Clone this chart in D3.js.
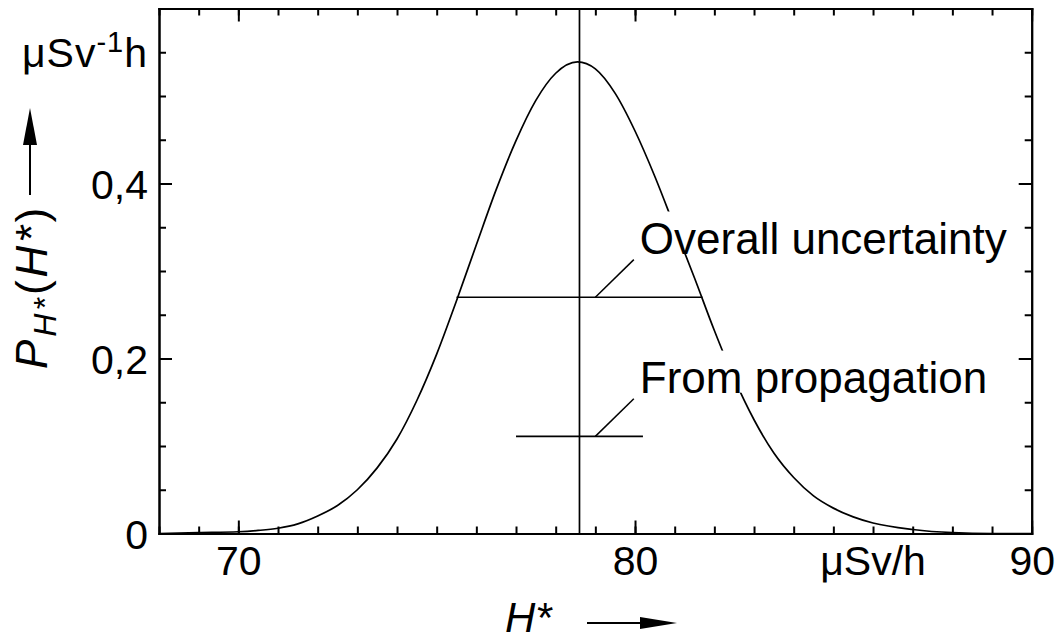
<!DOCTYPE html>
<html>
<head>
<meta charset="utf-8">
<script src="https://cdn.jsdelivr.net/npm/d3@7"></script>
<style>
body { margin: 0; background: #fff; }
svg { display: block; }
text { font-family: "Liberation Sans", Arial, sans-serif; fill: #000; }
</style>
</head>
<body>
<svg id="chart" width="1061" height="642"></svg>
<script>
// curve: H* in uSv/h, density in (uSv/h)^-1
var curveX = [68, 69, 70, 70.5, 71, 71.5, 72, 72.5, 73, 73.5, 74, 74.5, 75, 75.5, 76, 76.5, 77, 77.5, 78, 78.55,
	79, 79.5, 80, 80.5, 81, 81.5, 82, 82.5, 83, 83.5, 84, 84.5, 85, 85.5, 86, 87, 88, 89, 90];
var curveY = [0, 0.001, 0.002, 0.0035, 0.006, 0.011, 0.02, 0.032, 0.05, 0.075, 0.108, 0.152, 0.205, 0.266, 0.33, 0.393, 0.449, 0.495, 0.526, 0.539,
	0.531, 0.503, 0.46, 0.408, 0.35, 0.292, 0.232, 0.177, 0.13, 0.092, 0.064, 0.043, 0.029, 0.019, 0.012, 0.0046, 0.001, 0, 0];

var meanValue = 78.6;
var barNames = ["Overall uncertainty", "From propagation"];
var barFrom = [75.5, 77.0];
var barTo = [81.7, 80.2];
var barLevel = [0.27, 0.111];

var xMajorTicks = [70, 80, 90];
var xTickLabels = ["70", "80", "90"];
var yMajorTicks = [0, 0.2, 0.4];
var yTickLabels = ["0", "0,2", "0,4"];

var svg = d3.select('#chart');

var x = d3.scaleLinear().domain([68, 90]).range([159, 1031.7]);
var y = d3.scaleLinear().domain([0, 0.6]).range([533.5, 8.5]);

function styleAxis(g) {
	g.select('.domain').attr('stroke', '#000').attr('stroke-width', 2).attr('stroke-linecap', 'square');
	g.selectAll('.tick line').attr('stroke', '#000').attr('stroke-width', 2);
	g.selectAll('text').attr('font-size', 41).attr('fill', '#000')
		.attr('font-family', '"Liberation Sans", Arial, sans-serif');
}

// minor ticks, all four sides, pointing inward
svg.append('g').attr('transform', 'translate(0,' + y(0) + ')')
	.call(d3.axisBottom(x).tickValues(x.ticks(22)).tickSize(-7).tickSizeOuter(0).tickFormat(''))
	.call(styleAxis);
svg.append('g').attr('transform', 'translate(0,' + y(0.6) + ')')
	.call(d3.axisTop(x).tickValues(x.ticks(22)).tickSize(-7).tickSizeOuter(0).tickFormat(''))
	.call(styleAxis);
svg.append('g').attr('transform', 'translate(' + x(68) + ',0)')
	.call(d3.axisLeft(y).tickValues(y.ticks(12)).tickSize(-7).tickSizeOuter(0).tickFormat(''))
	.call(styleAxis);
svg.append('g').attr('transform', 'translate(' + x(90) + ',0)')
	.call(d3.axisRight(y).tickValues(y.ticks(12)).tickSize(-7).tickSizeOuter(0).tickFormat(''))
	.call(styleAxis);

// major ticks + labels
svg.append('g').attr('transform', 'translate(0,' + y(0) + ')')
	.call(d3.axisBottom(x).tickValues(xMajorTicks).tickSize(-13).tickSizeOuter(0).tickPadding(12.4)
		.tickFormat(function(d, i) { return xTickLabels[i]; }))
	.call(styleAxis);
svg.append('g').attr('transform', 'translate(0,' + y(0.6) + ')')
	.call(d3.axisTop(x).tickValues(xMajorTicks).tickSize(-13).tickSizeOuter(0).tickFormat(''))
	.call(styleAxis);
var yAx = svg.append('g').attr('transform', 'translate(' + x(68) + ',0)')
	.call(d3.axisLeft(y).tickValues(yMajorTicks).tickSize(-13).tickSizeOuter(0).tickPadding(11)
		.tickFormat(function(d, i) { return yTickLabels[i]; }))
	.call(styleAxis);
yAx.selectAll('text').attr('dy', '0.37em');
svg.append('g').attr('transform', 'translate(' + x(90) + ',0)')
	.call(d3.axisRight(y).tickValues(yMajorTicks).tickSize(-13).tickSizeOuter(0).tickFormat(''))
	.call(styleAxis);

// unit labels placed like tick labels
svg.append('text').attr('x', x(86)).attr('y', y(0)).attr('dy', 41.5)
	.attr('text-anchor', 'middle').attr('font-size', 41).text('\u03bcSv/h');
var uy = svg.append('text').attr('x', x(68) - 11).attr('y', y(0.55)).attr('dy', 15.2)
	.attr('text-anchor', 'end').attr('font-size', 41).attr('letter-spacing', 1);
uy.append('tspan').text('\u03bcSv');
uy.append('tspan').attr('font-size', 29).attr('dy', -15).text('-1');
uy.append('tspan').attr('dy', 15).text('h');

// the density curve
var line = d3.line()
	.x(function(d, i) { return x(curveX[i]); })
	.y(function(d) { return y(d); })
	.curve(d3.curveMonotoneX);
svg.append('path').datum(curveY)
	.attr('d', line)
	.attr('fill', 'none').attr('stroke', '#000').attr('stroke-width', 1.7);

// mean line
svg.append('line')
	.attr('x1', x(meanValue)).attr('x2', x(meanValue))
	.attr('y1', y(0)).attr('y2', y(0.6))
	.attr('stroke', '#000').attr('stroke-width', 1.7);

// uncertainty bars with leaders and labels
barNames.forEach(function(name, i) {
	var lv = barLevel[i];
	svg.append('line')
		.attr('x1', x(barFrom[i])).attr('x2', x(barTo[i]))
		.attr('y1', y(lv)).attr('y2', y(lv))
		.attr('stroke', '#000').attr('stroke-width', 1.7);
	svg.append('line')
		.attr('x1', x(79.0)).attr('y1', y(lv))
		.attr('x2', x(79.97)).attr('y2', y(lv + 0.043))
		.attr('stroke', '#000').attr('stroke-width', 1.5);

	var g = svg.append('g');
	var bg = g.append('rect').attr('fill', '#fff');
	var base = y(lv + 0.05);
	var t = g.append('text')
		.attr('x', x(79.97) + 6).attr('y', base)
		.attr('font-size', 44).text(name);
	var bb = t.node().getBBox();
	bg.attr('x', bb.x).attr('width', bb.width)
		.attr('y', base - 42).attr('height', 42);
});

// axis titles with arrows
var yl = svg.append('text').attr('transform', 'translate(47,369) rotate(-90)')
	.attr('font-size', 44).attr('letter-spacing', 3);
yl.append('tspan').attr('font-style', 'italic').text('P');
yl.append('tspan').attr('font-style', 'italic').attr('font-size', 32).attr('dy', 9).text('H*');
yl.append('tspan').attr('dy', -9).text('(');
yl.append('tspan').attr('font-style', 'italic').text('H*');
yl.append('tspan').text(')');

svg.append('line').attr('x1', 30).attr('x2', 30).attr('y1', 195).attr('y2', 140)
	.attr('stroke', '#000').attr('stroke-width', 2);
svg.append('path').attr('d', 'M30,108 L23,145 L37,145 Z').attr('fill', '#000');

svg.append('text').attr('x', 505).attr('y', 632).attr('font-size', 42)
	.attr('font-style', 'italic').text('H*');
svg.append('line').attr('x1', 587).attr('x2', 645).attr('y1', 623).attr('y2', 623)
	.attr('stroke', '#000').attr('stroke-width', 2);
svg.append('path').attr('d', 'M677,623 L640,617 L640,629 Z').attr('fill', '#000');
</script>
</body>
</html>
